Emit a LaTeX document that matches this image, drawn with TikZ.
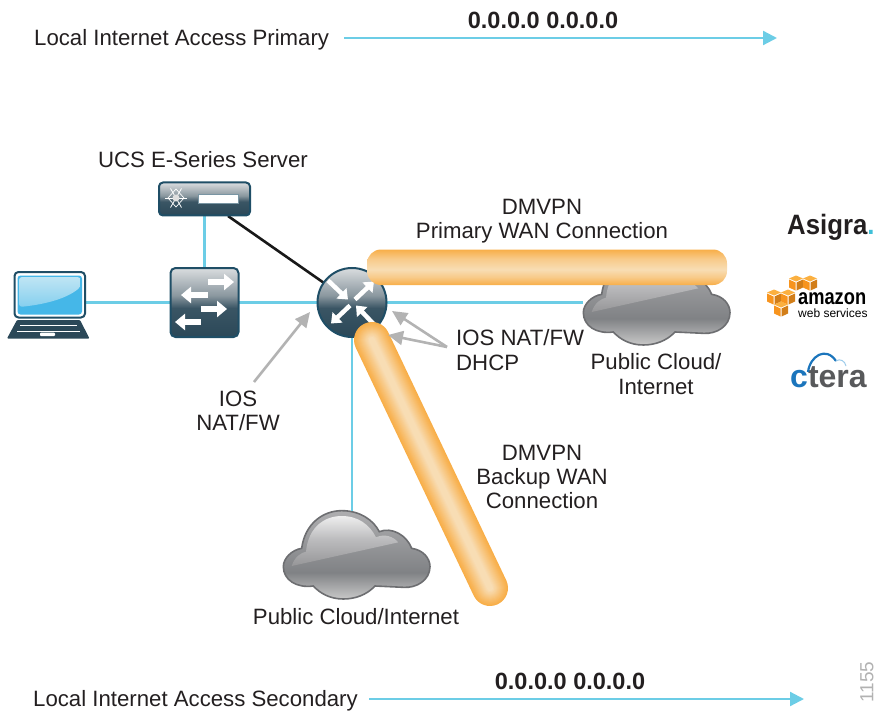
\documentclass[tikz,border=0pt]{standalone}
\usepackage{fontspec}
\setmainfont{Liberation Sans}
\usetikzlibrary{arrows.meta}
\definecolor{linkblue}{HTML}{6CCDE6}
\definecolor{iconedge}{HTML}{1F4E66}
\definecolor{icondark}{HTML}{2B4858}
\definecolor{iconmid}{HTML}{3A5564}
\definecolor{iconlight}{HTML}{DADDDF}
\definecolor{icongray}{HTML}{8A979F}
\definecolor{cloudedge}{HTML}{6D6E71}
\definecolor{cloudtop}{HTML}{AEAEB0}
\definecolor{cloudmid}{HTML}{808285}
\definecolor{cloudlow}{HTML}{C8C8C8}
\definecolor{glosstop}{HTML}{EEEEEE}
\definecolor{glossmid}{HTML}{BCBCBE}
\definecolor{glosslow}{HTML}{969698}
\definecolor{tubeO}{HTML}{F8AE48}
\definecolor{tubeL}{HTML}{F8DDB4}
\definecolor{grayarrow}{HTML}{B3B3B3}
\definecolor{textdark}{HTML}{231F20}
\definecolor{awsorange}{HTML}{F7941E}
\definecolor{awslight}{HTML}{FBB040}
\definecolor{screenblue}{HTML}{45B7E8}
\definecolor{screenlight}{HTML}{BFE5F4}
\definecolor{screenmid}{HTML}{85CFEE}
\definecolor{cteracol}{HTML}{1B75BC}
\definecolor{cteralight}{HTML}{9CCBEA}
\definecolor{cteragray}{HTML}{58595B}
\definecolor{asigradot}{HTML}{3FC0D8}
\pgfdeclareverticalshading{iconshade}{100bp}{color(0bp)=(icondark); color(25bp)=(icondark); color(46bp)=(iconmid); color(55bp)=(icongray); color(75bp)=(iconlight); color(100bp)=(iconlight)}
\pgfdeclareverticalshading{cloudshade}{100bp}{color(0bp)=(cloudlow); color(25bp)=(cloudlow); color(40bp)=(cloudmid); color(75bp)=(cloudtop); color(100bp)=(cloudtop)}
\pgfdeclareverticalshading{glossshade}{100bp}{color(0bp)=(glosslow); color(25bp)=(glosslow); color(52bp)=(glossmid); color(75bp)=(glosstop); color(100bp)=(glosstop)}
\pgfdeclareverticalshading{tubeshade}{100bp}{color(0bp)=(tubeO); color(25bp)=(tubeO); color(36bp)=(tubeL!60!tubeO); color(47bp)=(tubeL); color(62bp)=(tubeL!60!tubeO); color(75bp)=(tubeO); color(100bp)=(tubeO)}
\pgfdeclareverticalshading{screenshade}{100bp}{color(0bp)=(screenmid); color(25bp)=(screenmid); color(75bp)=(screenlight); color(100bp)=(screenlight)}
\tikzset{
  txt/.style={inner sep=0pt,text=textdark,align=center,font=\fontsize{22.2}{24.2}\selectfont},
  txtb/.style={inner sep=0pt,text=textdark,font=\bfseries\fontsize{23.5}{25}\selectfont},
  hidebox/.style={inner sep=0pt,outer sep=0pt},
  icon/.style={draw=iconedge,line width=2pt,shading=iconshade},
  link/.style={draw=linkblue,line width=2.8pt},
  flow/.style={draw=linkblue,line width=2.2pt,-{Triangle[length=14pt,width=14pt]}},
  callout/.style={draw=grayarrow,line width=2.6pt,-{Triangle[length=15pt,width=14pt]}},
  whitearrow/.style={draw=white,line width=4.5pt,-{Triangle[length=9pt,width=14pt]}},
  whitefat/.style={draw=white,line width=6pt,-{Triangle[length=10pt,width=16pt]}},
}
\newcommand{\cloudicon}[2]{%
  \begin{scope}[shift={(#1,#2)},x=.3333pt,y=-.3333pt]
    \path[draw=cloudedge,line width=1.6pt,shading=cloudshade]
      (125,205) .. controls (135,130) and (190,92) .. (245,92)
      .. controls (300,92) and (340,120) .. (358,155)
      .. controls (395,140) and (440,165) .. (455,205)
      .. controls (490,210) and (510,235) .. (510,260)
      .. controls (510,300) and (470,325) .. (430,322)
      -- (345,318) .. controls (320,345) and (285,357) .. (250,357)
      .. controls (210,357) and (180,340) .. (160,318)
      .. controls (110,325) and (70,300) .. (70,260)
      .. controls (70,235) and (95,210) .. (125,205) -- cycle;
    \path[shading=glossshade]
      (95,258) .. controls (105,228) and (125,218) .. (138,215)
      .. controls (145,140) and (195,108) .. (245,108)
      .. controls (295,108) and (330,135) .. (348,172)
      .. controls (375,160) and (400,170) .. (415,187) -- cycle;
  \end{scope}}
\newcommand{\awscube}[2]{%
  \begin{scope}[shift={(#1,#2)}]
    \fill[awslight] (0,-7.5) -- (7,-4.5) -- (0,-1.5) -- (-7,-4.5) -- cycle;
    \fill[awsorange] (-7,-3.5) -- (-.5,-.5) -- (-.5,7.5) -- (-7,4.5) -- cycle;
    \fill[awsorange!85!black] (7,-3.5) -- (.5,-.5) -- (.5,7.5) -- (7,4.5) -- cycle;
  \end{scope}}
\begin{document}
\begin{tikzpicture}[x=1pt,y=-1pt]
\useasboundingbox (0,0) rectangle (877,711);
% text
\node[txt,anchor=west] (primlabel) at (34,39.5) {Local Internet Access Primary};
\node[txtb] (primaddr) at (543,20) {0.0.0.0 0.0.0.0};
\node[txt,anchor=west] (seclabel) at (33,700.5) {Local Internet Access Secondary};
\node[txtb] (secaddr) at (570,681) {0.0.0.0 0.0.0.0};
\coordinate (primfrom) at (344,38);
\coordinate (primto) at (777,38);
\coordinate (secfrom) at (369,699);
\coordinate (secto) at (804,699);
\draw[flow] (primfrom) -- (primto);
\draw[flow] (secfrom) -- (secto);
\node[txt] (srvlabel) at (203,160) {UCS E-Series Server};
\node[txt] (wan1label) at (542,221) {DMVPN\\Primary WAN Connection};
\node[txt,align=left,anchor=west] (natlabel) at (456,350) {IOS NAT/FW\\DHCP};
\node[txt] (cloud1label) at (656,374) {Public Cloud/\\Internet};
\node[txt] (natleft) at (238,411) {IOS\\NAT/FW};
\node[txt] (wan2label) at (542,477) {DMVPN\\Backup WAN\\Connection};
\node[txt] (cloud2label) at (356,617) {Public Cloud/Internet};
% hidden anchors for the icons
\node[hidebox,minimum width=71pt,minimum height=46pt] (laptop) at (49.5,295) {};
\node[hidebox,minimum width=147pt,minimum height=88pt] (cloudA) at (656.5,303) {};
\node[hidebox,minimum width=147pt,minimum height=88pt] (cloudB) at (356.5,555) {};
\cloudicon{560}{226}
\cloudicon{260}{480}
% connectors
\coordinate (srvblack) at (228,216);
\node[hidebox,circle,minimum size=69pt] (routerhub) at (352,302.5) {};
\node[hidebox,minimum width=68pt,minimum height=69pt] (switchhub) at (204.5,302.5) {};
\node[hidebox,minimum width=91pt,minimum height=33pt] (serverhub) at (204.5,199) {};
\draw[link] (laptop.east |- switchhub.west) -- (switchhub.west);
\draw[link] (serverhub.south) -- (switchhub.north);
\draw[link] (switchhub.east) -- (routerhub.west);
\draw[link] (routerhub.east) -- (routerhub.east -| cloudA.west);
\draw[link] (routerhub.south) -- (routerhub.south |- cloudB.north);
\draw[draw=black!90,line width=2.6pt] (srvblack) -- (routerhub);
% switch, server, router
\node[icon,rectangle,rounded corners=5pt,minimum width=68pt,minimum height=69pt,inner sep=0pt] (switch) at (switchhub) {};
\node[icon,rectangle,rounded corners=4pt,minimum width=91pt,minimum height=33pt,inner sep=0pt] (server) at (serverhub) {};
\node[icon,circle,minimum size=69pt,inner sep=0pt] (router) at (routerhub) {};
\begin{scope}[shift={(router)}]
  \draw[whitearrow] (-24,-22) -- (-4,-3);
  \draw[whitearrow] (3,-3) -- (22,-21);
  \draw[whitearrow] (-2,3) -- (-21,21);
  \draw[whitearrow] (23,23) -- (4,3);
\end{scope}
% switch arrows
\draw[whitefat] (208,282) -- (234,282);
\draw[whitefat] (208,295) -- (181,295);
\draw[whitefat] (201,309) -- (227,309);
\draw[whitefat] (201,322) -- (175,322);
% server details
\fill[white] (198,194) rectangle (238,203);
\draw[iconedge!60,line width=.6pt] (198,194) rectangle (238,203);
\foreach \a in {0,60,120,180,240,300} {
  \draw[white,line width=.8pt] (176,198) -- ++(\a:11);
}
\draw[white,line width=.7pt] (176,189) -- (184,198) -- (176,207) -- (168,198) -- cycle;
\fill[white!75!gray] (176,198) circle (3.5);
% laptop
\draw[draw=iconedge,line width=2pt,fill=white,rounded corners=4pt] (14.5,272) rectangle (85,317.5);
\fill[fill=screenblue,rounded corners=3pt] (17.5,275.5) rectangle (82,314.5);
\path[shading=screenshade,rounded corners=3pt] (19,277) -- (80.5,277) -- (80.5,287) .. controls (65,300) and (40,305) .. (19,307) -- cycle;
\fill[icondark,rounded corners=1pt] (17,320) -- (80,320) -- (89.5,338.5) -- (7,338.5) -- cycle;
\draw[white,line width=.7pt] (20,325) -- (77,325) (17,331) -- (80,331);
\fill[white,rounded corners=1pt] (40,332.5) rectangle (55,336);
% tubes
\path[shading=tubeshade,rounded corners=14pt] (367,249.5) rectangle (727,285);
\coordinate (tubeA) at (372,340);
\coordinate (tubeB) at (490,588);
\foreach \w/\m in {36/0,34/6,32/12,30/18,28/25,26/32,24/39,22/46,20/53,18/60,16/67,14/74,12/81,10/88,8/94,6/100} {
  \draw[line cap=round,draw=tubeL!\m!tubeO,line width=\w pt] (tubeA) -- (tubeB);
}
% callouts
\coordinate (c1from) at (254,382);
\coordinate (c1to) at (310,312);
\coordinate (c2from) at (447,347);
\coordinate (c2to) at (392,311);
\coordinate (c3to) at (388,335);
\draw[callout] (c1from) -- (c1to);
\draw[callout] (c2from) -- (c2to);
\draw[callout] (c2from) -- (c3to);
% logos
\node[inner sep=0pt,anchor=base west,xscale=.92,text=textdark,font=\bfseries\fontsize{28}{30}\selectfont] (asigra) at (787,235) {Asigra\textcolor{asigradot}{.}};
\awscube{796}{283}
\awscube{810}{283}
\awscube{774}{297}
\awscube{788}{297}
\awscube{781}{309}
\node[inner sep=0pt,anchor=base west,xscale=.83,text=black,font=\bfseries\fontsize{22}{22}\selectfont] (amazon) at (798,304) {amazon};
\node[inner sep=0pt,anchor=base west,text=black,font=\fontsize{12}{12}\selectfont] (aws) at (798,317.5) {web services};
\node[inner sep=0pt,anchor=base west,font=\bfseries\fontsize{32}{34}\selectfont] (ctera) at (790,387) {\textcolor{cteracol}{c}\textcolor{cteragray}{tera}};
\coordinate (arcA) at (808,372);
\coordinate (arcB) at (836,361);
\coordinate (arcC) at (846,366);
\draw[draw=cteracol,line width=2.2pt] (arcA) .. controls (810,356) and (826,346) .. (arcB);
\draw[draw=cteralight,line width=1pt] (arcB) .. controls (840,358) and (845,361) .. (arcC);
\node[inner sep=0pt,rotate=90,text=black!30,font=\fontsize{19}{20}\selectfont] (ref) at (867,682) {1155};
\end{tikzpicture}
\end{document}
